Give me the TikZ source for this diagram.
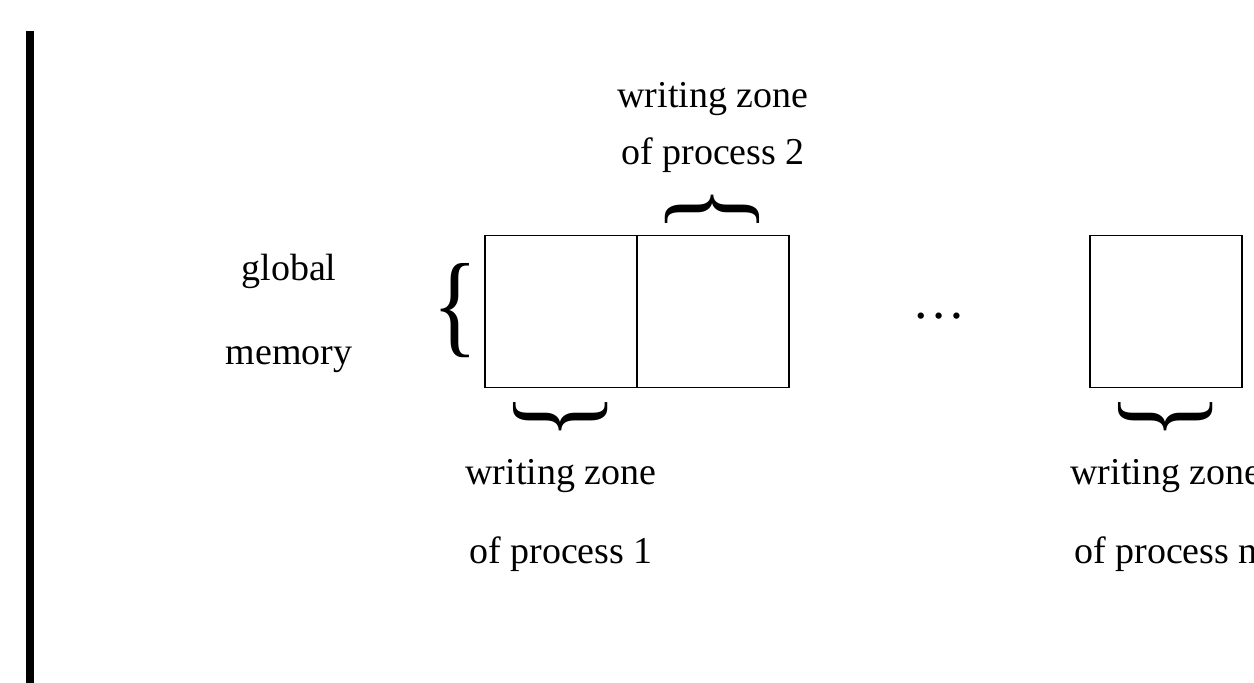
\documentclass[tikz,border=0pt]{standalone}
\usepackage{fontspec}
\setmainfont{Liberation Serif}
\usepackage{tikz}
\usetikzlibrary{positioning}

\begin{document}
\begin{tikzpicture}[x=0.01cm,y=-0.01cm,
    every node/.style={font=\fontsize{10.8}{13}\selectfont},
    cell/.style={draw,line width=0.45pt,minimum size=1.52cm,inner sep=0pt,outer sep=0pt},
    lbl/.style={anchor=base,inner sep=0pt},
    brace/.style={xscale=2.5,yscale=3,inner sep=0pt}]
  \useasboundingbox (0,0) rectangle (1254,683);
  \draw[line width=0.08cm] (30,31) -- (30,683);

  % memory cells
  \node[cell] (c1) at (561,311.5) {};
  \node[cell,right=0pt of c1] (c2) {};
  \node[cell] (cn) at (1166,311.5) {};
  \node[scale=1.4] (dots) at (939,316) {…};

  % braces
  \node[brace] (lb) at (455,311) {\{};
  \node[rotate=-90,brace] (ob) at (712,209) {\{};
  \node[rotate=90,brace] (ub1) at (561,417) {\{};
  \node[rotate=90,brace] (ubn) at (1166,417) {\{};

  % labels
  \node[lbl] (g1) at (289,281) {global};
  \node[lbl] (g2) at (289,365) {memory};
  \node[lbl] (t1) at (713,108) {writing zone};
  \node[lbl] (t2) at (713,165) {of process 2};
  \node[lbl] (b1) at (561,485) {writing zone};
  \node[lbl] (b2) at (561,564) {of process 1};
  \node[lbl] (n1) at (1166,485) {writing zone};
  \node[lbl] (n2) at (1166,564) {of process n};
\end{tikzpicture}
\end{document}
